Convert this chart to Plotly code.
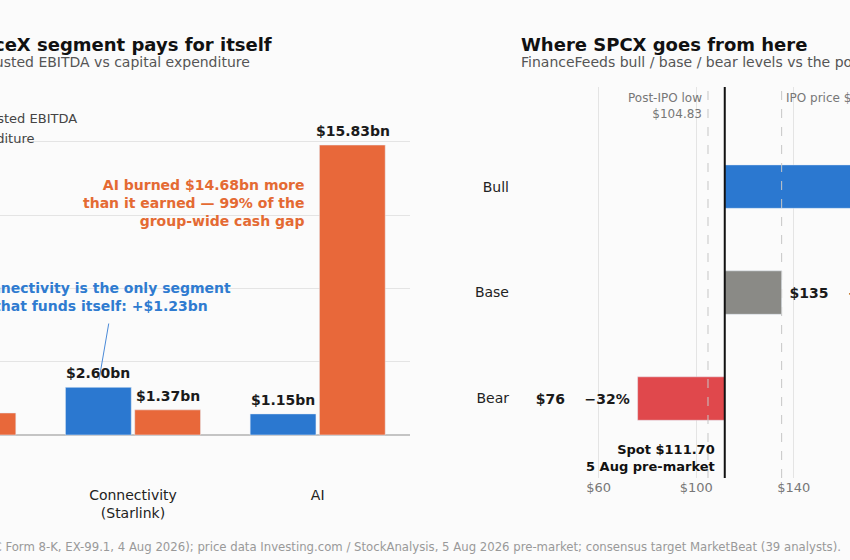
import plotly.graph_objects as go
from plotly.subplots import make_subplots

# Segmentos: EBITDA ajustado vs capex (bn USD)
segments = ["Space", "Connectivity<br>(Starlink)", "AI"]
ebitda = [-0.18, 2.60, 1.15]
capex = [1.20, 1.37, 15.83]

# Escenarios de precio SPCX
scenarios = ["Bear", "Base", "Bull"]
targets = [76, 135, 185]
spot = 111.70
post_ipo_low = 104.83
ipo_price = 135

BLUE = "#2b78d0"
ORANGE = "#e8683a"
BG = "#fbfbfb"
FONT = "DejaVu Sans"

pct = [f"{(t / spot - 1) * 100:+.0f}%".replace("-", "\u2212") for t in targets]
price_lbl = [f"${t}" for t in targets]
nb = "\u00a0"

fig = make_subplots(rows=1, cols=2)

fig.add_trace(go.Bar(x=segments, y=ebitda, name="Segment adjusted EBITDA", marker_color=BLUE),
              row=1, col=1)
fig.add_trace(go.Bar(x=segments, y=capex, name="Capital expenditure", marker_color=ORANGE),
              row=1, col=1)

fig.add_trace(go.Bar(y=scenarios, x=[t - spot for t in targets], base=spot, orientation="h",
                     marker_color=["#e0484c", "#8a8a86", BLUE], width=0.41, showlegend=False,
                     customdata=list(zip(price_lbl, pct)),
                     texttemplate="<b>" + nb + "%{customdata[0]}" + nb * 4 + "%{customdata[1]}" + nb + "</b>",
                     textposition="outside", cliponaxis=False, constraintext="none",
                     textfont=dict(family=FONT, size=14, color="#1a1a1a")), row=1, col=2)

fig.update_layout(
    width=850, height=560,
    margin=dict(l=0, r=0, t=87, b=82, autoexpand=False),
    paper_bgcolor=BG, plot_bgcolor=BG,
    font=dict(family=FONT, size=13, color="#222"),
    barmode="group", bargap=0.25, bargroupgap=0.05,
    legend=dict(x=-0.157, y=0.96, xanchor="left", yanchor="top", bgcolor="rgba(0,0,0,0)",
                font=dict(size=13, color="#444")),
    xaxis=dict(domain=[0, 0.4824], range=[0.28, 2.5], showgrid=False, ticks="",
               ticklabelstandoff=7, tickfont=dict(size=14, color="#222")),
    yaxis=dict(range=[-2.35, 19.0], tickvals=[0, 4, 8, 12, 16], showticklabels=False,
               gridcolor="#e4e4e4", zeroline=True, zerolinecolor="#c4c4c4", zerolinewidth=1.5),
    xaxis2=dict(domain=[0.6094, 1], range=[27, 163], tickvals=[60, 100, 140],
                ticktext=["$60", "$100", "$140"], gridcolor="#e4e4e4", zeroline=False,
                tickfont=dict(size=13, color="#777")),
    yaxis2=dict(range=[-0.75, 2.94], showgrid=False, ticks="", ticklabelstandoff=8,
                tickfont=dict(size=14, color="#222")),
)

# Etiquetas de barras (izquierda)
for vals, shift in [(ebitda, -35), (capex, 35)]:
    for seg, v in zip(segments, vals):
        fig.add_annotation(x=seg, y=max(v, 0), xref="x", yref="y", xshift=shift,
                           yshift=4 if v >= 0 else -4, yanchor="bottom" if v >= 0 else "top",
                           text=f"<b>${v:.2f}bn</b>", showarrow=False,
                           font=dict(size=14, color="#1a1a1a"))

# Lineas verticales: spot, minimo post-IPO, precio IPO
fig.add_shape(type="line", xref="x2", yref="y2 domain", x0=post_ipo_low, x1=post_ipo_low, y0=0, y1=1,
              line=dict(color="#c6c6c6", width=1, dash="dash"))
fig.add_shape(type="line", xref="x2", yref="y2 domain", x0=ipo_price, x1=ipo_price, y0=0, y1=1,
              line=dict(color="#c6c6c6", width=1, dash="dash"))
fig.add_shape(type="line", xref="x2", yref="y2 domain", x0=spot, x1=spot, y0=0, y1=1,
              line=dict(color="#111", width=2))

annots = [
    dict(text="<b>SpaceX segment pays for itself</b>", xref="paper", yref="paper", x=0.3225, y=1.108,
         xanchor="right", font=dict(size=18, color="#111")),
    dict(text="Segment adjusted EBITDA vs capital expenditure", xref="paper", yref="paper", x=0.297, y=1.065,
         xanchor="right", font=dict(size=14, color="#555")),
    dict(text="<b>Where SPCX goes from here</b>", xref="paper", yref="paper", x=0.6106, y=1.108,
         xanchor="left", font=dict(size=18, color="#111")),
    dict(text="FinanceFeeds bull / base / bear levels vs the post-IPO range", xref="paper", yref="paper",
         x=0.6106, y=1.065, xanchor="left", font=dict(size=14, color="#555")),
    dict(text="<b>AI burned $14.68bn more<br>than it earned \u2014 99% of the<br>group-wide cash gap</b>",
         xref="x", yref="y", x=1.94, y=12.66, xanchor="right", align="right",
         font=dict(size=14, color="#e46a33")),
    dict(text="<b>Connectivity is the only segment<br>that funds itself: +$1.23bn</b>",
         xref="x", yref="y", x=0.827, y=7.55, xanchor="center", align="center",
         font=dict(size=14, color="#2f7bd0")),
    # trazo fino que une el texto azul con la barra de Connectivity
    dict(text="", xref="x", yref="y", x=0.816, y=3.0, ax=10, ay=-58, showarrow=True,
         arrowhead=0, arrowwidth=1, arrowcolor="#4a8ad8", standoff=0, startstandoff=0),
    dict(text="Post-IPO low<br>$104.83", xref="x2", yref="paper", x=post_ipo_low, y=1, xanchor="right",
         yanchor="top", xshift=-4, yshift=-2, align="right", font=dict(size=12, color="#777")),
    dict(text=f"IPO price ${ipo_price}", xref="x2", yref="paper", x=ipo_price, y=1, xanchor="left",
         yanchor="top", xshift=2, yshift=-2, align="left", font=dict(size=12, color="#777")),
    dict(text=f"<b>Spot ${spot:.2f}<br>5 Aug pre-market</b>", xref="x2", yref="paper", x=spot, y=0,
         xanchor="right", yanchor="bottom", xshift=-8, yshift=2, align="right",
         font=dict(size=13, color="#111")),
    dict(text="Source: SpaceX (SEC Form 8-K, EX-99.1, 4 Aug 2026); price data Investing.com / StockAnalysis, "
              "5 Aug 2026 pre-market; consensus target MarketBeat (39 analysts).",
         xref="paper", yref="paper", x=0.992, y=-0.174, xanchor="right",
         font=dict(family="Liberation Sans Narrow, DejaVu Sans Condensed", size=13, color="#999")),
]
for a in annots:
    a.setdefault("showarrow", False)
    a.setdefault("yanchor", "middle")
    fig.add_annotation(**a)

fig.write_html("out.html", config={"displayModeBar": False},
               post_script="document.body.style.margin='0';document.body.style.background='#fbfbfb';")
